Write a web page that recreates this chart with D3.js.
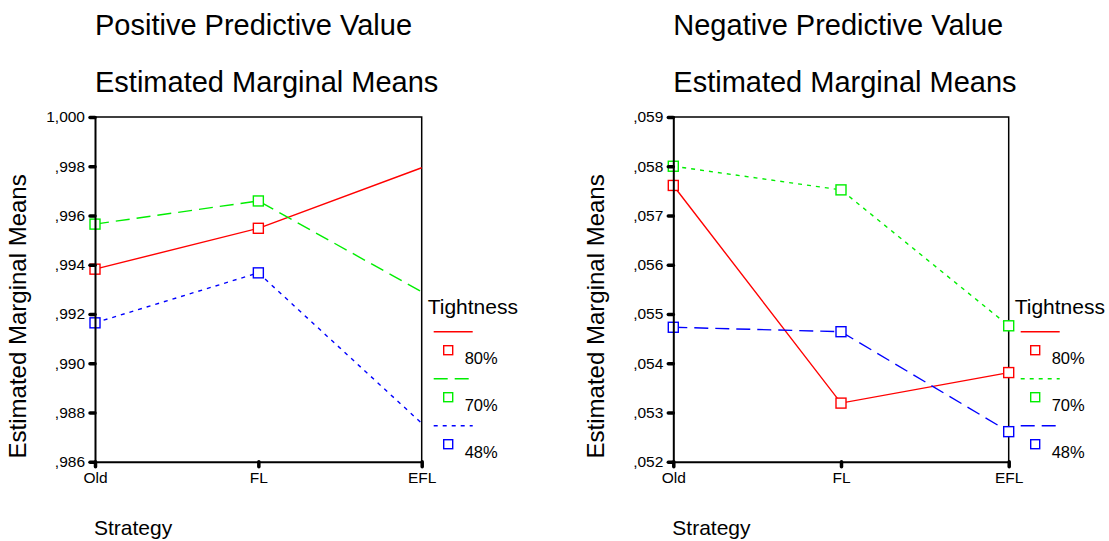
<!DOCTYPE html>
<html>
<head>
<meta charset="utf-8">
<script src="https://cdn.jsdelivr.net/npm/d3@7"></script>
<style>
  html, body { margin: 0; padding: 0; background: #fff; }
  svg { display: block; font-family: "Liberation Sans", Arial, sans-serif; }
</style>
</head>
<body>
<svg id="chart" width="1109" height="541"></svg>
<script>
// Factor levels
const strategies = ["Old", "FL", "EFL"];
const tightnessLevels = ["80%", "70%", "48%"];

// Positive predictive value: estimated marginal means per tightness level
const ppv80 = [0.99382, 0.99548, 0.99794];
const ppv70 = [0.99565, 0.99659, 0.99290];
const ppv48 = [0.99164, 0.99367, 0.98756];
const ppvTicks = [0.986, 0.988, 0.990, 0.992, 0.994, 0.996, 0.998, 1.000];

// Negative predictive value: estimated marginal means per tightness level
const npv80 = [0.05761, 0.05319, 0.05381];
const npv70 = [0.05800, 0.05752, 0.05476];
const npv48 = [0.05473, 0.05464, 0.05261];
const npvTicks = [0.052, 0.053, 0.054, 0.055, 0.056, 0.057, 0.058, 0.059];

const colors = ["#ff0000", "#00ee00", "#0000ff"];

// SPSS-style numbers: comma decimal separator, no leading zero
const spssFormat = d => {
  const s = d3.format(".3f")(d).replace(".", ",");
  return s.startsWith("0,") ? s.slice(1) : s;
};

const svg = d3.select("#chart");

function drawPanel(cfg) {
  const g = svg.append("g");
  const x = d3.scalePoint().domain(strategies).range([cfg.left, cfg.right]);
  const y = d3.scaleLinear().domain(d3.extent(cfg.ticks)).range([cfg.bottom, cfg.top]);

  // Titles
  g.append("text").attr("x", cfg.left).attr("y", 35)
    .attr("font-size", 29).text(cfg.title);
  g.append("text").attr("x", cfg.left).attr("y", 92)
    .attr("font-size", 29).text("Estimated Marginal Means");

  // Frame: top and right edges
  g.append("path")
    .attr("d", `M${cfg.left},${cfg.top}H${cfg.right}V${cfg.bottom}`)
    .attr("fill", "none").attr("stroke", "#000").attr("stroke-width", 1.5);

  // Series lines
  cfg.series.forEach((vals, i) => {
    const line = d3.line().x((d, j) => x(strategies[j])).y(d => y(d));
    g.append("path").datum(vals)
      .attr("d", line)
      .attr("fill", "none")
      .attr("stroke", colors[i])
      .attr("stroke-width", 1.4)
      .attr("stroke-dasharray", cfg.dashes[i]);
  });

  // Markers
  cfg.series.forEach((vals, i) => {
    const pts = vals.map((v, j) => ({ s: strategies[j], v }))
      .filter(p => cfg.markerLevels.includes(p.s));
    g.selectAll(null).data(pts).enter().append("rect")
      .attr("x", d => x(d.s) - 5).attr("y", d => y(d.v) - 5)
      .attr("width", 10).attr("height", 10)
      .attr("fill", "#fff").attr("stroke", colors[i]).attr("stroke-width", 1.4);
  });

  // Y axis
  const yAxis = g.append("g").attr("transform", `translate(${cfg.left},0)`)
    .call(d3.axisLeft(y).tickValues(cfg.ticks).tickFormat(spssFormat).tickSize(5).tickPadding(5));
  yAxis.select(".domain").attr("stroke-width", 2);
  yAxis.selectAll(".tick line").attr("stroke-width", 3.5).attr("stroke-linecap", "round");
  yAxis.selectAll(".tick text").attr("font-size", 15.5).attr("font-family", "Liberation Sans, Arial, sans-serif").attr("fill", "#000");

  // X axis
  const xAxis = g.append("g").attr("transform", `translate(0,${cfg.bottom})`)
    .call(d3.axisBottom(x).tickSize(5).tickPadding(5));
  xAxis.select(".domain").attr("stroke-width", 2);
  xAxis.selectAll(".tick line").attr("stroke-width", 3.5).attr("stroke-linecap", "round");
  xAxis.selectAll(".tick text").attr("font-size", 15.5).attr("font-family", "Liberation Sans, Arial, sans-serif").attr("fill", "#000");

  // Axis titles
  g.append("text")
    .attr("transform", `translate(${cfg.left - 69},${(cfg.top + cfg.bottom) / 2 + 27}) rotate(-90)`)
    .attr("text-anchor", "middle").attr("font-size", 24).text("Estimated Marginal Means");
  g.append("text").attr("x", cfg.left - 1).attr("y", 535)
    .attr("font-size", 21).text("Strategy");

  // Legend
  const lx = cfg.right + 6;
  g.append("text").attr("x", lx).attr("y", 314).attr("font-size", 21).text("Tightness");
  tightnessLevels.forEach((lvl, i) => {
    const ly = 331.7 + i * 47;
    g.append("line").attr("x1", lx + 6).attr("x2", lx + 45).attr("y1", ly).attr("y2", ly)
      .attr("stroke", colors[i]).attr("stroke-width", 1.4).attr("stroke-dasharray", cfg.dashes[i]);
    g.append("rect").attr("x", lx + 16).attr("y", ly + 14).attr("width", 9).attr("height", 9)
      .attr("fill", "#fff").attr("stroke", colors[i]).attr("stroke-width", 1.4);
    g.append("text").attr("x", lx + 37).attr("y", ly + 32).attr("font-size", 16.5).text(lvl);
  });
}

drawPanel({
  title: "Positive Predictive Value",
  left: 95, right: 421.7, top: 117, bottom: 461.7,
  ticks: ppvTicks,
  series: [ppv80, ppv70, ppv48],
  dashes: [null, "14,7", "4,5"],
  markerLevels: ["Old", "FL"]
});

drawPanel({
  title: "Negative Predictive Value",
  left: 673.3, right: 1008.7, top: 117, bottom: 461.7,
  ticks: npvTicks,
  series: [npv80, npv70, npv48],
  dashes: [null, "4,5", "14,7"],
  markerLevels: ["Old", "FL", "EFL"]
});
</script>
</body>
</html>
